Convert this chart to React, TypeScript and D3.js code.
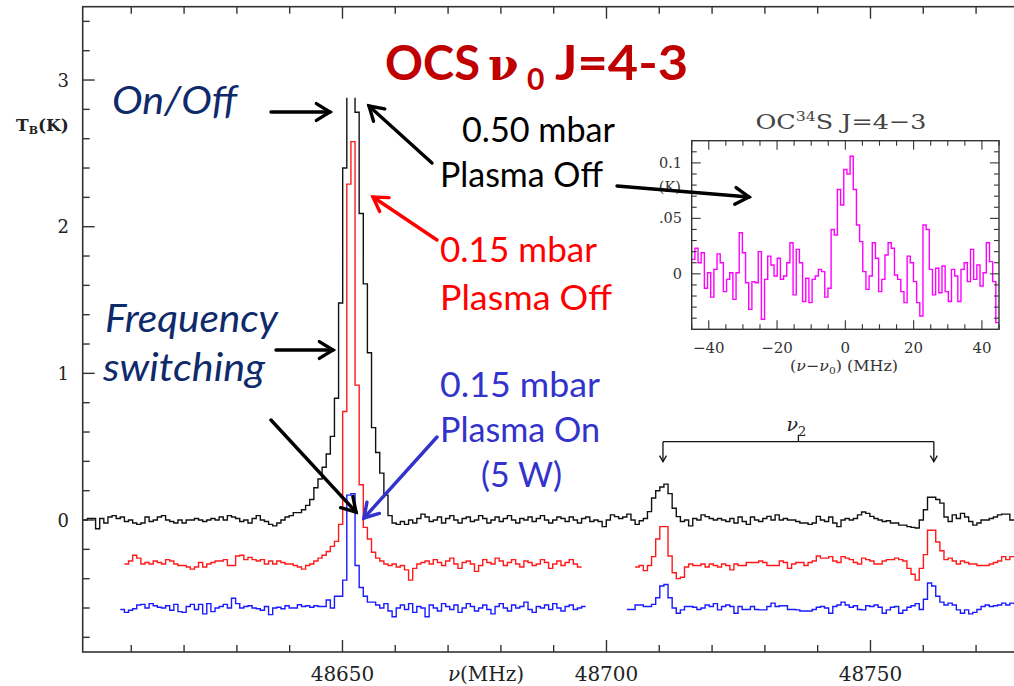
import React from 'react';
import * as d3 from 'd3';

// ---------------- DATA ----------------
const CHANNEL_MHZ = 0.78;

// 0.50 mbar, plasma off (On/Off) - black
const blackStartMHz = 48600.12;
const blackValues = [
  0.0, 0.0, 0.01, 0.01, -0.06, 0.01, -0.02, 0.02, 0.03, 0.01,
  0.02, -0.01, 0.0, -0.02, -0.03, -0.02, 0.02, -0.01, 0.0, 0.02,
  0.03, 0.0, -0.01, -0.02, 0.0, -0.02, 0.0, 0.0, 0.01, 0.0,
  -0.01, 0.0, 0.01, 0.0, 0.02, 0.0, 0.03, 0.02, 0.01, -0.01,
  0.0, -0.02, 0.01, 0.03, 0.0, -0.01, -0.03, -0.04, -0.02, 0.0,
  0.02, 0.03, 0.05, 0.05, 0.07, 0.1, 0.14, 0.22, 0.28, 0.36,
  0.45, 0.57, 0.83, 1.48, 2.4, 3.3, 3.3, 2.78, 2.09, 1.61,
  1.14, 0.63, 0.46, 0.32, 0.17, 0.03,
  -0.02, -0.03, -0.01, -0.03, 0.0, -0.02, 0.01, 0.04, 0.02, -0.01,
  0.0, 0.02, -0.02, 0.01, 0.03, 0.0, -0.02, 0.01, 0.02, -0.01,
  0.0, 0.03, 0.01, -0.02, 0.0, 0.02, -0.01, 0.01, 0.03, 0.0,
  -0.02, 0.01, 0.0, 0.02, -0.01, 0.01, 0.03, 0.0, -0.02, 0.0,
  0.02, 0.01, -0.01, 0.02, 0.0, -0.02, 0.01, 0.02, -0.01, 0.0,
  -0.01, -0.045, 0.0, 0.035, 0.023, 0.01, 0.02, 0.04, 0.0, -0.03,
  -0.005, 0.01, 0.057, 0.15, 0.2, 0.225, 0.245, 0.18, 0.08, 0.023,
  -0.01, 0.0, -0.04, 0.01, 0.0, 0.035, 0.023, 0.01, 0.0, 0.01,
  0.0, -0.01, 0.01, -0.02, 0.02, -0.01, -0.03, 0.02, 0.0, -0.01,
  0.01, 0.025, 0.0, 0.035, 0.0, 0.01, 0.0, 0.0, -0.01, -0.02,
  -0.02, -0.03, -0.02, 0.025, 0.0, -0.01, 0.02, -0.02, -0.045, 0.0,
  0.01, 0.0, 0.01, 0.035, 0.055, 0.045, 0.025, 0.01, 0.0, -0.01,
  -0.005, -0.02, -0.02, -0.035, -0.035, -0.045, -0.05, -0.055, 0.0, 0.07,
  0.155, 0.155, 0.14, 0.115, 0.02, -0.01, 0.035, 0.01, 0.045, 0.02,
  -0.01, -0.035, -0.02, 0.0, 0.0, 0.01, 0.02, 0.035, 0.04, 0.04, 0.0, 0.0,
];

// 0.15 mbar, plasma off - red (two pieces)
const redStart1MHz = 48608.7;
const redValues1 = [
  -0.3, -0.28, -0.24, -0.26, -0.3, -0.29, -0.3, -0.28, -0.29, -0.3,
  -0.27, -0.28, -0.3, -0.31, -0.31, -0.32, -0.335, -0.32, -0.29, -0.32,
  -0.3, -0.29, -0.28, -0.28, -0.27, -0.31, -0.31, -0.245, -0.24, -0.27,
  -0.255, -0.27, -0.28, -0.27, -0.3, -0.28, -0.3, -0.28, -0.29, -0.3,
  -0.3, -0.31, -0.32, -0.335, -0.31, -0.3, -0.28, -0.26, -0.24, -0.215,
  -0.18, -0.146, -0.03,
  0.74, 2.29, 2.58, 0.92, 0.24, -0.05, -0.13, -0.22,
  -0.26, -0.28, -0.3, -0.31, -0.3, -0.32, -0.31, -0.34, -0.41, -0.33,
  -0.3, -0.29, -0.28, -0.3, -0.27, -0.29, -0.31, -0.28, -0.26, -0.3,
  -0.33, -0.29, -0.28, -0.3, -0.35, -0.31, -0.27, -0.29, -0.3, -0.26,
  -0.28, -0.31, -0.29, -0.27, -0.3, -0.32, -0.28, -0.29, -0.31, -0.3,
  -0.27, -0.29, -0.33, -0.3, -0.28, -0.31, -0.29, -0.27, -0.3, -0.32,
];
const redStart2MHz = 48705.42;
const redValues2 = [
  -0.32, -0.31, -0.345, -0.31, -0.25, -0.13, -0.045, -0.045, -0.245, -0.36,
  -0.4, -0.39, -0.32, -0.3, -0.31, -0.31, -0.3, -0.32, -0.3, -0.31,
  -0.32, -0.3, -0.31, -0.34, -0.3, -0.31, -0.31, -0.29, -0.29, -0.29,
  -0.28, -0.29, -0.31, -0.31, -0.31, -0.28, -0.29, -0.33, -0.3, -0.29,
  -0.29, -0.31, -0.29, -0.28, -0.245, -0.26, -0.26, -0.25, -0.28, -0.29,
  -0.25, -0.26, -0.27, -0.29, -0.3, -0.26, -0.27, -0.28, -0.3, -0.3,
  -0.28, -0.27, -0.27, -0.26, -0.27, -0.28, -0.33, -0.37, -0.41, -0.33,
  -0.236, -0.07, -0.07, -0.15, -0.21, -0.27, -0.26, -0.28, -0.3, -0.28,
  -0.29, -0.3, -0.3, -0.31, -0.31, -0.31, -0.3, -0.29, -0.28, -0.25,
  -0.27, -0.25, -0.25,
];

// 0.15 mbar, plasma on (5 W) - blue (two pieces)
const blueStart1MHz = 48607.92;
const blueValues1 = [
  -0.61, -0.63, -0.615, -0.605, -0.58, -0.575, -0.6, -0.57, -0.585, -0.595,
  -0.6, -0.585, -0.615, -0.575, -0.625, -0.63, -0.59, -0.575, -0.61, -0.575,
  -0.64, -0.57, -0.625, -0.6, -0.59, -0.575, -0.6, -0.533, -0.57, -0.6,
  -0.59, -0.585, -0.6, -0.605, -0.615, -0.59, -0.645, -0.6, -0.595, -0.605,
  -0.585, -0.6, -0.6, -0.578, -0.59, -0.585, -0.595, -0.585, -0.59, -0.59,
  -0.545, -0.6, -0.52, -0.52, -0.41,
  0.17, 0.18, -0.31, -0.46, -0.52, -0.56, -0.56,
  -0.58, -0.6, -0.57, -0.62, -0.66, -0.6, -0.58, -0.61, -0.57, -0.63,
  -0.59, -0.6, -0.66, -0.58, -0.6, -0.62, -0.57, -0.59, -0.61, -0.58,
  -0.63, -0.6, -0.57, -0.59, -0.62, -0.6, -0.58, -0.61, -0.64, -0.59,
  -0.57, -0.6, -0.62, -0.58, -0.6, -0.59, -0.56, -0.61, -0.63, -0.59,
  -0.6, -0.58, -0.61, -0.57, -0.6, -0.62, -0.59, -0.58, -0.61, -0.6, -0.59,
];
const blueStart2MHz = 48703.86;
const blueValues2 = [
  -0.61, -0.61, -0.58, -0.58, -0.59, -0.59, -0.575, -0.53, -0.45, -0.44,
  -0.53, -0.6, -0.636, -0.613, -0.59, -0.59, -0.595, -0.61, -0.6, -0.58,
  -0.59, -0.57, -0.613, -0.59, -0.58, -0.59, -0.636, -0.59, -0.61, -0.61,
  -0.59, -0.61, -0.613, -0.613, -0.59, -0.567, -0.59, -0.585, -0.585, -0.61,
  -0.61, -0.613, -0.62, -0.62, -0.62, -0.61, -0.595, -0.59, -0.6, -0.636,
  -0.59, -0.58, -0.56, -0.58, -0.595, -0.585, -0.61, -0.613, -0.585, -0.59,
  -0.58, -0.595, -0.636, -0.613, -0.595, -0.59, -0.636, -0.615, -0.595, -0.585,
  -0.57, -0.61, -0.54, -0.43, -0.45, -0.52, -0.56, -0.58, -0.567, -0.58,
  -0.613, -0.636, -0.613, -0.64, -0.63, -0.61, -0.59, -0.58, -0.59, -0.585,
  -0.58, -0.567, -0.58, -0.567, -0.57,
];

// Inset: OC34S J=4-3 (magenta), relative frequency
const insetStartMHz = -45;
const insetChannelMHz = 90 / 97;
const insetValues = [
  0.013, 0.023, 0.01, 0.019, -0.013, 0.001, -0.021, 0.004, 0.018, 0.01,
  -0.016, -0.005, 0.001, -0.023, 0.001, 0.037, 0.019, -0.008, -0.032, -0.007,
  -0.008, 0.02, -0.041, -0.005, 0.016, 0.008, -0.002, 0.014, -0.005, -0.002,
  0.01, 0.028, -0.019, 0.022, 0.01, -0.025, -0.004, -0.026, -0.005, -0.002,
  0.004, 0.002, -0.021, -0.013, 0.04, 0.035, 0.076, 0.062, 0.094, 0.09,
  0.106, 0.076, 0.044, 0.029, 0.002, -0.014, -0.002, 0.028, 0.014, -0.016,
  -0.005, 0.017, 0.028, 0.023, -0.001, -0.005, -0.016, -0.026, 0.016, 0.01,
  -0.007, -0.026, -0.038, 0.044, 0.04, 0.004, -0.019, 0.005, -0.017, 0.007,
  -0.016, -0.025, 0.004, -0.002, -0.025, 0.004, 0.01, -0.007, 0.022, -0.005,
  0.008, -0.011, 0.001, 0.028, 0.011, -0.007, -0.044,
];

const xMajorTicks = [48650, 48700, 48750];
const yMajorTicks = [0, 1, 2, 3];
const insetXLabels = [-40, -20, 0, 20, 40];
const insetYLabels = [0, 0.05, 0.1];
const insetYLabelText = ['0', '.05', '0.1'];
const nu2LineMHz = [48710.7, 48762.0];

// ---------------- HELPERS ----------------
type P = [number, number];
function stepPts(start: number, width: number, vals: number[]): P[] {
  const pts: P[] = vals.map((v, i) => [start + i * width, v] as P);
  pts.push([start + vals.length * width, vals[vals.length - 1]]);
  return pts;
}

function Arrow({ x1, y1, x2, y2, color, w = 3.4, head = 16 }: any) {
  const a = Math.atan2(y2 - y1, x2 - x1);
  const s = 0.55;
  const hx1 = x2 - head * Math.cos(a - s);
  const hy1 = y2 - head * Math.sin(a - s);
  const hx2 = x2 - head * Math.cos(a + s);
  const hy2 = y2 - head * Math.sin(a + s);
  return (
    <g stroke={color} strokeWidth={w} fill="none" strokeLinecap="round" strokeLinejoin="miter">
      <line x1={x1} y1={y1} x2={x2} y2={y2} />
      <polyline points={`${hx1},${hy1} ${x2},${y2} ${hx2},${hy2}`} />
    </g>
  );
}

export default function App() {
  const W = 1014, H = 686;
  // main plot area
  const L = 82.7, T = 6.7, B = 652, R = 1033.1;
  const x = d3.scaleLinear().domain([48600.8, 48780.8]).range([L, R]);
  const y = d3.scaleLinear().domain([-0.9, 3.5]).range([B, T]);
  const line = d3.line<P>().x(d => x(d[0])).y(d => y(d[1])).curve(d3.curveStepAfter);

  const xTicks = d3.range(48610, 48781, 10);
  const yTicks = d3.range(-8, 35, 2).map(v => v / 10);

  // inset
  const iL = 691.7, iR = 999, iT = 140.7, iB = 329.3;
  const ix = d3.scaleLinear().domain([-45, 45]).range([iL, iR]);
  const iy = d3.scaleLinear().domain([-0.05, 0.12]).range([iB, iT]);
  const iline = d3.line<P>().x(d => ix(d[0])).y(d => iy(d[1])).curve(d3.curveStepAfter);
  const ixTicks = d3.range(-45, 46, 5);
  const iyTicks = d3.range(-4, 12, 1).map(v => v / 100);

  const axisFont = 'DejaVu Serif';
  const annFont = 'Lato, "Open Sans", sans-serif';
  const navy = '#0e2a6a';
  const blue = '#3333cc';

  const nuX1 = x(nu2LineMHz[0]);
  const nuX2 = x(nu2LineMHz[1]);
  const nuMid = (nuX1 + nuX2) / 2;
  const nuY = 441.7;

  return (
    <svg width={W} height={H} style={{ position: 'absolute', left: 0, top: 0, background: '#fff' }}
      xmlns="http://www.w3.org/2000/svg">
      <rect x={0} y={0} width={W} height={H} fill="#fff" />
      <defs>
        <clipPath id="plotClip"><rect x={L} y={T} width={R - L} height={B - T} /></clipPath>
        <clipPath id="blackClip"><rect x={L} y={y(2.88)} width={R - L} height={B - y(2.88)} /></clipPath>
        <clipPath id="insetClip"><rect x={iL} y={iT} width={iR - iL} height={iB - iT} /></clipPath>
      </defs>

      {/* spectra */}
      <g clipPath="url(#plotClip)" fill="none" strokeWidth={1.4} strokeLinejoin="miter">
        <path d={line(stepPts(blueStart1MHz, CHANNEL_MHZ, blueValues1)) || ''} stroke="#1a1aff" />
        <path d={line(stepPts(blueStart2MHz, CHANNEL_MHZ, blueValues2)) || ''} stroke="#1a1aff" />
        <path d={line(stepPts(redStart1MHz, CHANNEL_MHZ, redValues1)) || ''} stroke="#ff1a1a" />
        <path d={line(stepPts(redStart2MHz, CHANNEL_MHZ, redValues2)) || ''} stroke="#ff1a1a" />
        <g clipPath="url(#blackClip)">
          <path d={line(stepPts(blackStartMHz, CHANNEL_MHZ, blackValues)) || ''} stroke="#111" />
        </g>
      </g>

      {/* frame and ticks */}
      <rect x={L} y={T} width={R - L} height={B - T} fill="none" stroke="#333" strokeWidth={1.6} />
      <g stroke="#333" strokeWidth={1.4}>
        {xTicks.map(t => {
          const len = t % 50 === 0 ? 12 : 7;
          return (
            <g key={'xt' + t}>
              <line x1={x(t)} x2={x(t)} y1={B} y2={B - len} />
              <line x1={x(t)} x2={x(t)} y1={T} y2={T + len} />
            </g>
          );
        })}
        {yTicks.map(t => {
          const len = Math.abs(t - Math.round(t)) < 1e-6 ? 12 : 7;
          return <line key={'yt' + t} x1={L} x2={L + len} y1={y(t)} y2={y(t)} />;
        })}
      </g>
      <g fontFamily={axisFont} fontSize={20} fill="#222" textAnchor="middle">
        {xMajorTicks.map(t => (
          <text key={'xl' + t} x={x(t)} y={681}>{t}</text>
        ))}
        <text x={486} y={681}><tspan fontStyle="italic">ν</tspan>(MHz)</text>
      </g>
      <g fontFamily={axisFont} fontSize={18} fill="#222" textAnchor="end">
        {yMajorTicks.map(t => (
          <text key={'yl' + t} x={69} y={y(t) + 6.5}>{t}</text>
        ))}
      </g>
      <text x={16} y={131} fontFamily={axisFont} fontSize={17} fontWeight={700} fill="#222">
        T<tspan fontSize={11} dy={3}>B</tspan><tspan dy={-3}>(K)</tspan>
      </text>

      {/* nu2 bracket */}
      <g stroke="#111" strokeWidth={1.3} fill="none">
        <line x1={nuX1} x2={nuX2} y1={nuY} y2={nuY} />
        <line x1={nuMid} x2={nuMid} y1={nuY} y2={nuY - 7} />
        <line x1={nuX1} x2={nuX1} y1={nuY} y2={nuY + 20} />
        <line x1={nuX2} x2={nuX2} y1={nuY} y2={nuY + 20} />
        <polyline points={`${nuX1 - 3.5},${nuY + 14} ${nuX1},${nuY + 20} ${nuX1 + 3.5},${nuY + 14}`} />
        <polyline points={`${nuX2 - 3.5},${nuY + 14} ${nuX2},${nuY + 20} ${nuX2 + 3.5},${nuY + 14}`} />
      </g>
      <text x={nuMid - 12} y={431} fontFamily={axisFont} fontSize={19} fill="#222">
        <tspan fontStyle="italic">ν</tspan><tspan fontSize={13} dy={5}>2</tspan>
      </text>

      {/* inset */}
      <g clipPath="url(#insetClip)">
        <path d={iline(stepPts(insetStartMHz, insetChannelMHz, insetValues)) || ''} fill="none" stroke="#ff00ff" strokeWidth={1.4} />
      </g>
      <rect x={iL} y={iT} width={iR - iL} height={iB - iT} fill="none" stroke="#333" strokeWidth={1.4} />
      <g stroke="#333" strokeWidth={1.1}>
        {ixTicks.map(t => {
          const len = t % 20 === 0 ? 9 : 5;
          return (
            <g key={'ixt' + t}>
              <line x1={ix(t)} x2={ix(t)} y1={iB} y2={iB - len} />
              <line x1={ix(t)} x2={ix(t)} y1={iT} y2={iT + len} />
            </g>
          );
        })}
        {iyTicks.map(t => {
          const major = Math.abs((t * 100) % 5) < 1e-6;
          const len = major ? 9 : 5;
          return (
            <g key={'iyt' + t}>
              <line x1={iL} x2={iL + len} y1={iy(t)} y2={iy(t)} />
              <line x1={iR} x2={iR - len} y1={iy(t)} y2={iy(t)} />
            </g>
          );
        })}
      </g>
      <g fontFamily={axisFont} fontSize={15} fill="#333" textAnchor="middle">
        {insetXLabels.map(t => (
          <text key={'ixl' + t} x={ix(t)} y={353}>{t < 0 ? '−' + Math.abs(t) : t}</text>
        ))}
        <text x={844} y={371} textLength={108} lengthAdjust="spacingAndGlyphs">(<tspan fontStyle="italic">ν</tspan>−<tspan fontStyle="italic">ν</tspan><tspan fontSize={10} dy={3}>0</tspan><tspan dy={-3}>) (MHz)</tspan></text>
      </g>
      <g fontFamily={axisFont} fontSize={14.5} fill="#333" textAnchor="end">
        {insetYLabels.map((t, i) => (
          <text key={'iyl' + t} x={682} y={iy(t) + 5}>{insetYLabelText[i]}</text>
        ))}
        <text x={681} y={192}>(K)</text>
      </g>
      <text x={841} y={129} fontFamily={axisFont} fontSize={21} fill="#444" textAnchor="middle" textLength={171} lengthAdjust="spacingAndGlyphs">
        OC<tspan fontSize={13} dy={-8}>34</tspan><tspan dy={8}>S J=4−3</tspan>
      </text>

      {/* title */}
      <g fontFamily={annFont} fontWeight={700} fill="#c00000">
        <text x={385} y={80} fontSize={48} textLength={95} lengthAdjust="spacingAndGlyphs">OCS</text>
        <text x={488} y={80} fontSize={44} fontFamily="DejaVu Serif">ν</text>
        <text x={527} y={90} fontSize={30}>0</text>
        <text x={555} y={80} fontSize={48} textLength={133} lengthAdjust="spacingAndGlyphs">J=4-3</text>
      </g>

      {/* annotations */}
      <g fontFamily={annFont} fontStyle="italic" fill={navy} fontSize={38}>
        <text x={112} y={114} textLength={125} lengthAdjust="spacingAndGlyphs">On/Off</text>
        <text x={105} y={332} textLength={173} lengthAdjust="spacingAndGlyphs">Frequency</text>
        <text x={103} y={381} textLength={162} lengthAdjust="spacingAndGlyphs">switching</text>
      </g>
      <g fontFamily={annFont} fontSize={34}>
        <text x={462} y={142} fill="#000" textLength={153} lengthAdjust="spacingAndGlyphs">0.50 mbar</text>
        <text x={440} y={187} fill="#000" textLength={163} lengthAdjust="spacingAndGlyphs">Plasma Off</text>
        <text x={440} y={262} fill="#ff0000" textLength={157} lengthAdjust="spacingAndGlyphs">0.15 mbar</text>
        <text x={440} y={310} fill="#ff0000" textLength={172} lengthAdjust="spacingAndGlyphs">Plasma Off</text>
        <text x={440} y={397} fill={blue} textLength={160} lengthAdjust="spacingAndGlyphs">0.15 mbar</text>
        <text x={440} y={442} fill={blue} textLength={160} lengthAdjust="spacingAndGlyphs">Plasma On</text>
        <text x={481} y={487} fill={blue} textLength={81} lengthAdjust="spacingAndGlyphs">(5 W)</text>
      </g>

      <Arrow x1={271} y1={112} x2={330} y2={112} color="#000" />
      <Arrow x1={432} y1={163} x2={369} y2={106} color="#000" />
      <Arrow x1={617} y1={186} x2={749} y2={197} color="#000" />
      <Arrow x1={437} y1={240} x2={373} y2={197} color="#ff0000" />
      <Arrow x1={276} y1={350} x2={333} y2={350} color="#000" />
      <Arrow x1={271} y1={420} x2={356} y2={512} color="#000" />
      <Arrow x1={437} y1={437} x2={364} y2={518} color={blue} />
    </svg>
  );
}
